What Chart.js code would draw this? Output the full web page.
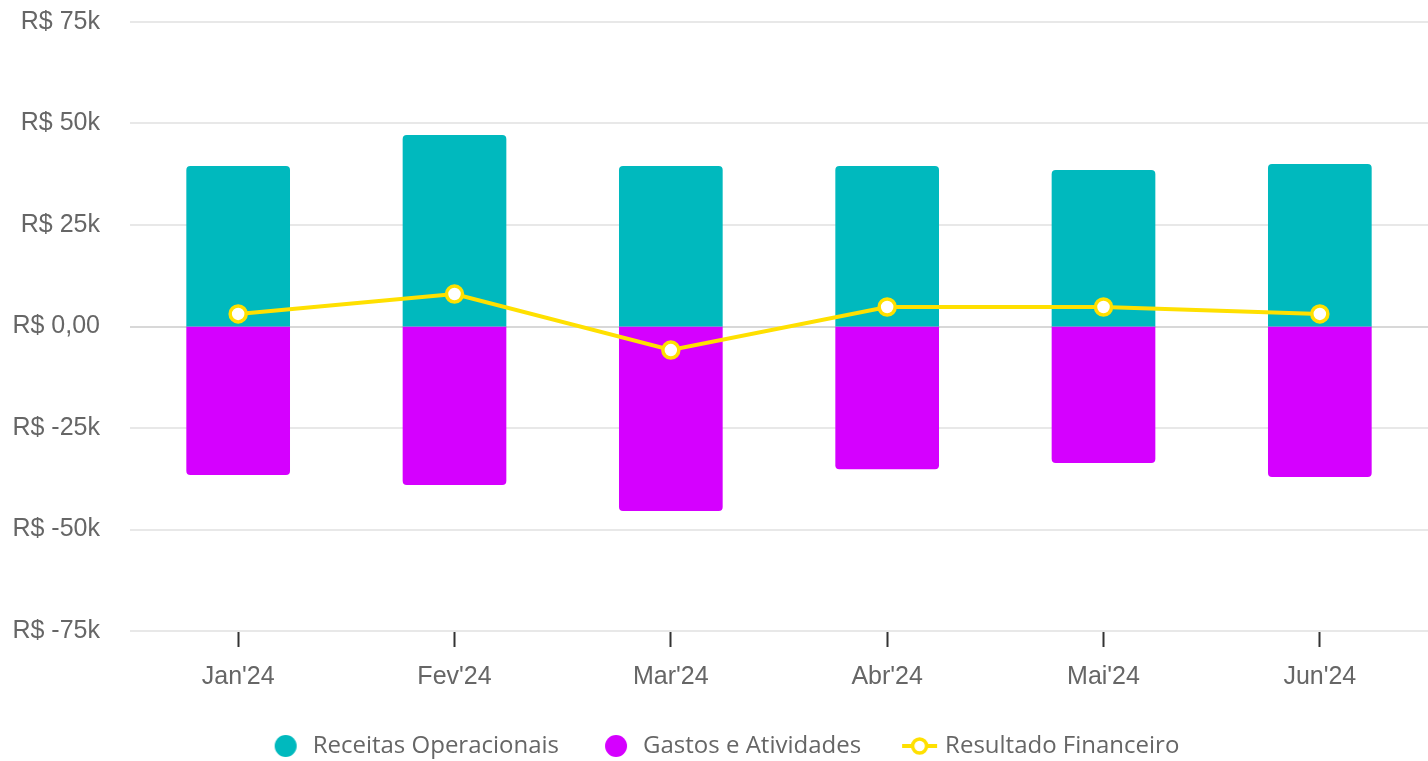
<!DOCTYPE html>
<html>
<head>
<meta charset="utf-8">
<script src="https://cdn.jsdelivr.net/npm/chart.js@4/dist/chart.umd.min.js"></script>
<style>
  html, body { margin: 0; padding: 0; background: #fff; }
  #wrap { width: 1428px; height: 761px; position: relative; }
</style>
</head>
<body>
<div id="wrap"><canvas id="resultChart"></canvas></div>
<script>
// Dados do gráfico
const meses = ["Jan'24", "Fev'24", "Mar'24", "Abr'24", "Mai'24", "Jun'24"];
const receitas = [39300, 46900, 39300, 39300, 38300, 39800];
const gastos = [-36300, -38800, -45200, -34900, -33400, -36800];
const resultado = [3100, 8000, -5800, 4800, 4800, 3100];
const nomesSeries = ['Receitas Operacionais', 'Gastos e Atividades', 'Resultado Financeiro'];

const corReceita = '#00B9BE';
const corGasto = '#D500FF';
const corResultado = '#FFE000';

// Ícones da legenda (canvas usados como pointStyle)
function iconeCirculo(cor) {
    const c = document.createElement('canvas');
    c.width = 80; c.height = 26;
    const ctx = c.getContext('2d');
    ctx.fillStyle = cor;
    ctx.beginPath();
    ctx.arc(60, 13, 11, 0, Math.PI * 2);
    ctx.fill();
    return c;
}

function iconeLinha(cor) {
    const c = document.createElement('canvas');
    c.width = 80; c.height = 26;
    const ctx = c.getContext('2d');
    ctx.strokeStyle = cor;
    ctx.lineWidth = 4;
    ctx.beginPath();
    ctx.moveTo(44, 13);
    ctx.lineTo(79, 13);
    ctx.stroke();
    ctx.fillStyle = '#fff';
    ctx.beginPath();
    ctx.arc(61.5, 13, 7, 0, Math.PI * 2);
    ctx.fill();
    ctx.lineWidth = 3.5;
    ctx.stroke();
    return c;
}

const icones = [iconeCirculo(corReceita), iconeCirculo(corGasto), iconeLinha(corResultado)];

function formatoReais(value) {
    if (value === 0) return 'R$ 0,00';
    return 'R$ ' + (value / 1000) + 'k';
}

// Desloca a legenda um pouco para a esquerda
const ajusteLegenda = {
    id: 'ajusteLegenda',
    afterLayout: function(chart) {
        chart.legend.left -= 9;
        chart.legend.right -= 9;
    }
};

const ctx = document.getElementById('resultChart').getContext('2d');
const resultChart = new Chart(ctx, {
    type: 'bar',
    data: {
        labels: meses,
        datasets: [
            {
                type: 'line',
                label: nomesSeries[2],
                data: resultado,
                borderColor: corResultado,
                borderWidth: 4,
                pointRadius: 8,
                pointBorderWidth: 3.5,
                pointBackgroundColor: '#fff',
                pointBorderColor: corResultado,
                tension: 0,
                order: 0
            },
            {
                label: nomesSeries[0],
                data: receitas,
                backgroundColor: corReceita,
                borderRadius: 4,
                borderSkipped: 'start',
                inflateAmount: 1,
                barPercentage: 0.47,
                categoryPercentage: 1,
                order: 1
            },
            {
                label: nomesSeries[1],
                data: gastos,
                backgroundColor: corGasto,
                borderRadius: 4,
                borderSkipped: 'start',
                inflateAmount: 1,
                barPercentage: 0.47,
                categoryPercentage: 1,
                order: 1
            }
        ]
    },
    options: {
        responsive: true,
        maintainAspectRatio: false,
        animation: false,
        layout: { autoPadding: false, padding: { top: 0, right: 0, bottom: -7, left: 0 } },
        plugins: {
            tooltip: { enabled: false },
            legend: {
                position: 'bottom',
                labels: {
                    usePointStyle: true,
                    pointStyleWidth: 70,
                    boxWidth: 70,
                    boxHeight: 16,
                    padding: 2,
                    color: '#666',
                    font: { family: "'Open Sans'", size: 24, lineHeight: 1 },
                    sort: function(a, b) {
                        return nomesSeries.indexOf(a.text) - nomesSeries.indexOf(b.text);
                    },
                    generateLabels: function(chart) {
                        return chart.data.datasets.map(function(ds, i) {
                            return {
                                text: ds.label,
                                pointStyle: icones[nomesSeries.indexOf(ds.label)],
                                fillStyle: 'transparent',
                                strokeStyle: 'transparent',
                                lineWidth: 0,
                                fontColor: '#666',
                                hidden: false,
                                datasetIndex: i
                            };
                        });
                    }
                }
            }
        },
        scales: {
            x: {
                stacked: true,
                grid: {
                    offset: false,
                    drawOnChartArea: false,
                    drawTicks: true,
                    tickLength: 16,
                    tickWidth: 2,
                    tickColor: '#333'
                },
                border: { display: false },
                ticks: {
                    padding: 15,
                    color: '#666',
                    font: { family: "'Liberation Sans'", size: 25 }
                },
                afterFit: function(axis) {
                    axis.height = 101;
                    axis.paddingLeft = 0;
                    axis.paddingRight = 0;
                }
            },
            y: {
                stacked: true,
                min: -75000,
                max: 75000,
                ticks: {
                    stepSize: 25000,
                    padding: 30,
                    color: '#666',
                    font: { family: "'Liberation Sans'", size: 25 },
                    callback: formatoReais
                },
                grid: {
                    drawTicks: false,
                    color: function(c) { return c.tick && c.tick.value === 0 ? '#d8d8d8' : '#e8e8e8'; },
                    lineWidth: 2
                },
                border: { display: false },
                afterFit: function(axis) {
                    axis.width = 130;
                    axis.paddingTop = 22;
                    axis.paddingBottom = 0;
                }
            }
        }
    },
    plugins: [ajusteLegenda]
});
</script>
</body>
</html>
